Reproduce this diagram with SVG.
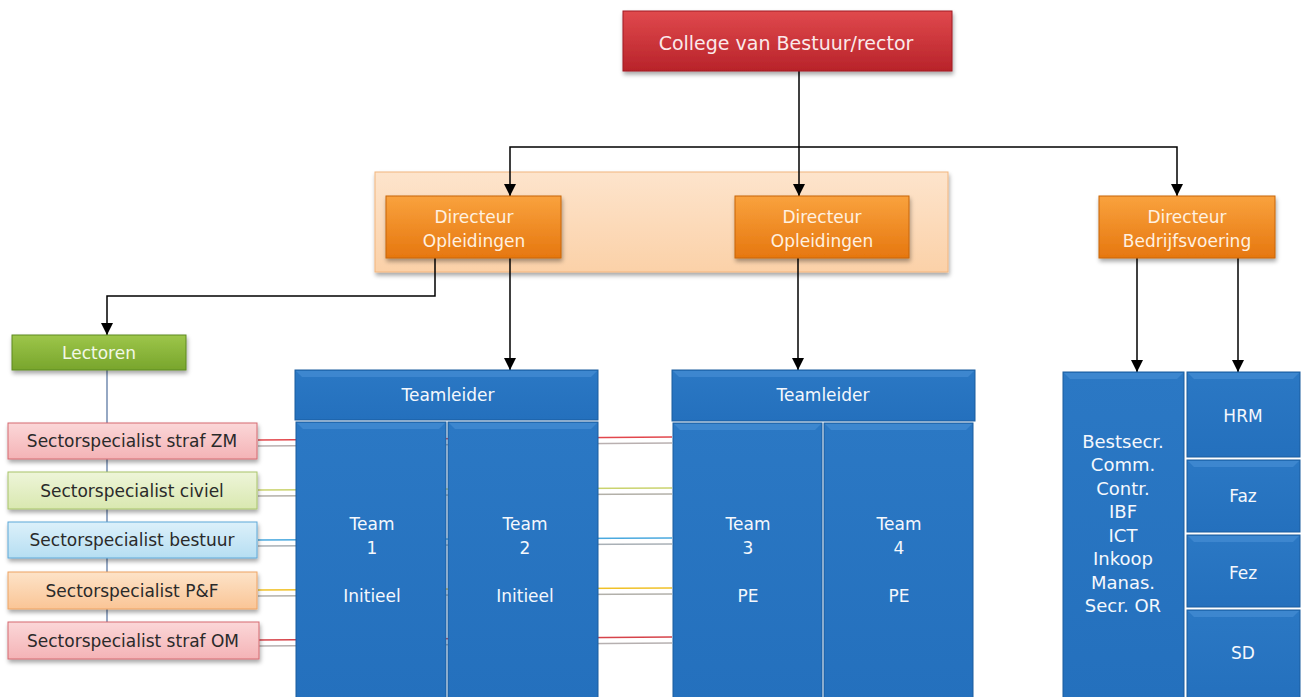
<svg xmlns="http://www.w3.org/2000/svg" width="1301" height="697" viewBox="0 0 1301 697">
<style>
text{font-family:"DejaVu Sans","Liberation Sans",sans-serif;text-anchor:middle;dominant-baseline:central}
.lt{fill:#f4f8fd;font-size:17px}
.dk{fill:#2a2a2a;font-size:17px}
.or{fill:#fff1e0;font-size:17px}
.arr{stroke:#000;stroke-width:1.5;fill:none}
.blue{fill:url(#gB);stroke:#1b5c9e;stroke-width:1}
.hl{fill:#4d93d8;opacity:.55}
</style>
<defs>
<filter id="sh" x="-10%" y="-10%" width="130%" height="150%"><feDropShadow dx="1" dy="3" stdDeviation="2" flood-color="#000" flood-opacity="0.35"/></filter>
<linearGradient id="gR" x1="0" y1="0" x2="0" y2="1"><stop offset="0" stop-color="#e0494d"/><stop offset="1" stop-color="#b8232a"/></linearGradient>
<linearGradient id="gO" x1="0" y1="0" x2="0" y2="1"><stop offset="0" stop-color="#f9a23e"/><stop offset="1" stop-color="#e6770f"/></linearGradient>
<linearGradient id="gC" x1="0" y1="0" x2="0" y2="1"><stop offset="0" stop-color="#fde4cc"/><stop offset="1" stop-color="#fbd1a8"/></linearGradient>
<linearGradient id="gG" x1="0" y1="0" x2="0" y2="1"><stop offset="0" stop-color="#9dc64a"/><stop offset="1" stop-color="#78a52c"/></linearGradient>
<linearGradient id="gB" x1="0" y1="0" x2="0" y2="1"><stop offset="0" stop-color="#2b78c4"/><stop offset="1" stop-color="#2470bd"/></linearGradient>
<linearGradient id="gPk" x1="0" y1="0" x2="0" y2="1"><stop offset="0" stop-color="#fbd7d8"/><stop offset="1" stop-color="#f4b3b6"/></linearGradient>
<linearGradient id="gLg" x1="0" y1="0" x2="0" y2="1"><stop offset="0" stop-color="#eef5d9"/><stop offset="1" stop-color="#d9e8b0"/></linearGradient>
<linearGradient id="gLb" x1="0" y1="0" x2="0" y2="1"><stop offset="0" stop-color="#dcf0fa"/><stop offset="1" stop-color="#b6def2"/></linearGradient>
<linearGradient id="gLo" x1="0" y1="0" x2="0" y2="1"><stop offset="0" stop-color="#fde3c8"/><stop offset="1" stop-color="#fac596"/></linearGradient>
<marker id="ah" markerUnits="userSpaceOnUse" markerWidth="12" markerHeight="12" refX="12" refY="6" orient="auto"><path d="M0,0 L12,6 L0,12 z" fill="#000"/></marker>
</defs>
<rect width="1301" height="697" fill="#fff"/>

<g id="container-opleidingen">
<rect x="375" y="172" width="573" height="100" fill="url(#gC)" stroke="#f2b57e" stroke-width="1" filter="url(#sh)"/>
</g>

<g id="connectors">
<line x1="107" y1="370" x2="107" y2="622" stroke="#4f6e9c" stroke-width="1.2"/>
<g stroke-width="1.5">
<line x1="258" y1="440" x2="672" y2="437" stroke="#e2474c"/>
<line x1="258" y1="446" x2="672" y2="443" stroke="#b9b0b0"/>
<line x1="258" y1="490" x2="672" y2="488" stroke="#cad36e"/>
<line x1="258" y1="496" x2="672" y2="494" stroke="#b3b0a8"/>
<line x1="258" y1="540" x2="672" y2="538" stroke="#4aa9df"/>
<line x1="258" y1="546" x2="672" y2="544" stroke="#a9b0b6"/>
<line x1="258" y1="590" x2="672" y2="588" stroke="#f0c128"/>
<line x1="258" y1="596" x2="672" y2="594" stroke="#b2b0aa"/>
<line x1="258" y1="640" x2="672" y2="637" stroke="#d6434a"/>
<line x1="258" y1="646" x2="672" y2="643" stroke="#b6b0b0"/>
</g>
<path class="arr" d="M799,71 V196" marker-end="url(#ah)"/>
<path class="arr" d="M799,147 H510 V196" marker-end="url(#ah)"/>
<path class="arr" d="M799,147 H1177 V196" marker-end="url(#ah)"/>
<path class="arr" d="M435,258 V296 H107 V335" marker-end="url(#ah)"/>
<path class="arr" d="M510,258 V370" marker-end="url(#ah)"/>
<path class="arr" d="M798,258 V370" marker-end="url(#ah)"/>
<path class="arr" d="M1137,258 V372" marker-end="url(#ah)"/>
<path class="arr" d="M1238,258 V372" marker-end="url(#ah)"/>
</g>

<g id="college">
<rect x="623" y="11" width="329" height="60" fill="url(#gR)" stroke="#a01c22" stroke-width="1" filter="url(#sh)"/>
<text x="786" y="43" style="fill:#fbe9ea;font-size:19px">College van Bestuur/rector</text>
</g>

<g id="directeur-opleidingen-1">
<rect x="386" y="196" width="175" height="62" fill="url(#gO)" stroke="#c8650c" stroke-width="1" filter="url(#sh)"/>
<text class="or" x="474" y="217">Directeur</text>
<text class="or" x="474" y="241">Opleidingen</text>
</g>

<g id="directeur-opleidingen-2">
<rect x="735" y="196" width="174" height="62" fill="url(#gO)" stroke="#c8650c" stroke-width="1" filter="url(#sh)"/>
<text class="or" x="822" y="217">Directeur</text>
<text class="or" x="822" y="241">Opleidingen</text>
</g>

<g id="directeur-bedrijfsvoering">
<rect x="1099" y="196" width="176" height="62" fill="url(#gO)" stroke="#c8650c" stroke-width="1" filter="url(#sh)"/>
<text class="or" x="1187" y="217">Directeur</text>
<text class="or" x="1187" y="241">Bedrijfsvoering</text>
</g>

<g id="lectoren">
<rect x="12" y="335" width="174" height="35" fill="url(#gG)" stroke="#5f8a1f" stroke-width="1" filter="url(#sh)"/>
<text x="99" y="353" style="fill:#f2f8e6;font-size:17px">Lectoren</text>
</g>

<g id="sector-straf-zm">
<rect x="8" y="423" width="249" height="36" fill="url(#gPk)" stroke="#d56a70" stroke-width="1" filter="url(#sh)"/>
<text class="dk" x="132" y="441">Sectorspecialist straf ZM</text>
</g>
<g id="sector-civiel">
<rect x="8" y="472" width="249" height="37" fill="url(#gLg)" stroke="#a8c46a" stroke-width="1" filter="url(#sh)"/>
<text class="dk" x="132" y="491">Sectorspecialist civiel</text>
</g>
<g id="sector-bestuur">
<rect x="8" y="522" width="249" height="36" fill="url(#gLb)" stroke="#5ea8d8" stroke-width="1" filter="url(#sh)"/>
<text class="dk" x="132" y="540">Sectorspecialist bestuur</text>
</g>
<g id="sector-pf">
<rect x="8" y="572" width="249" height="37" fill="url(#gLo)" stroke="#eea363" stroke-width="1" filter="url(#sh)"/>
<text class="dk" x="132" y="591">Sectorspecialist P&amp;F</text>
</g>
<g id="sector-straf-om">
<rect x="8" y="622" width="251" height="37" fill="url(#gPk)" stroke="#d56a70" stroke-width="1" filter="url(#sh)"/>
<text class="dk" x="133" y="641">Sectorspecialist straf OM</text>
</g>

<g id="teamleider-1">
<rect class="blue" x="295" y="370" width="303" height="50"/>
<path class="hl" d="M296,371 H597 L591,377 H302 z"/>
<text class="lt" x="448" y="395">Teamleider</text>
</g>
<g id="team-1">
<rect class="blue" x="296" y="422" width="150" height="280"/>
<path class="hl" d="M297,423 H445 L439,429 H303 z"/>
<text class="lt" x="372" y="524">Team</text>
<text class="lt" x="372" y="548">1</text>
<text class="lt" x="372" y="596">Initieel</text>
</g>
<g id="team-2">
<rect class="blue" x="448" y="422" width="150" height="280"/>
<path class="hl" d="M449,423 H597 L591,429 H455 z"/>
<text class="lt" x="525" y="524">Team</text>
<text class="lt" x="525" y="548">2</text>
<text class="lt" x="525" y="596">Initieel</text>
</g>

<g id="teamleider-2">
<rect class="blue" x="672" y="370" width="303" height="51"/>
<path class="hl" d="M673,371 H974 L968,377 H679 z"/>
<text class="lt" x="823" y="395">Teamleider</text>
</g>
<g id="team-3">
<rect class="blue" x="673" y="423" width="149" height="280"/>
<path class="hl" d="M674,424 H821 L815,430 H680 z"/>
<text class="lt" x="748" y="524">Team</text>
<text class="lt" x="748" y="548">3</text>
<text class="lt" x="748" y="596">PE</text>
</g>
<g id="team-4">
<rect class="blue" x="824" y="423" width="149" height="280"/>
<path class="hl" d="M825,424 H972 L966,430 H831 z"/>
<text class="lt" x="899" y="524">Team</text>
<text class="lt" x="899" y="548">4</text>
<text class="lt" x="899" y="596">PE</text>
</g>

<g id="staf-diensten">
<rect class="blue" x="1063" y="372" width="121" height="330"/>
<path class="hl" d="M1064,373 H1183 L1177,379 H1070 z"/>
<text class="lt" x="1123" y="441" style="font-size:18px">Bestsecr.</text>
<text class="lt" x="1123" y="464" style="font-size:18px">Comm.</text>
<text class="lt" x="1123" y="488" style="font-size:18px">Contr.</text>
<text class="lt" x="1123" y="511" style="font-size:18px">IBF</text>
<text class="lt" x="1123" y="535" style="font-size:18px">ICT</text>
<text class="lt" x="1123" y="558" style="font-size:18px">Inkoop</text>
<text class="lt" x="1123" y="582" style="font-size:18px">Manas.</text>
<text class="lt" x="1123" y="605" style="font-size:18px">Secr. OR</text>
</g>
<g id="hrm">
<rect class="blue" x="1187" y="372" width="113" height="85"/>
<path class="hl" d="M1188,373 H1299 L1293,379 H1194 z"/>
<text class="lt" x="1243" y="416">HRM</text>
</g>
<g id="faz">
<rect class="blue" x="1187" y="460" width="113" height="72"/>
<path class="hl" d="M1188,461 H1299 L1293,467 H1194 z"/>
<text class="lt" x="1243" y="496">Faz</text>
</g>
<g id="fez">
<rect class="blue" x="1187" y="535" width="113" height="72"/>
<path class="hl" d="M1188,536 H1299 L1293,542 H1194 z"/>
<text class="lt" x="1243" y="573">Fez</text>
</g>
<g id="sd">
<rect class="blue" x="1187" y="610" width="113" height="92"/>
<path class="hl" d="M1188,611 H1299 L1293,617 H1194 z"/>
<text class="lt" x="1243" y="653">SD</text>
</g>
</svg>
